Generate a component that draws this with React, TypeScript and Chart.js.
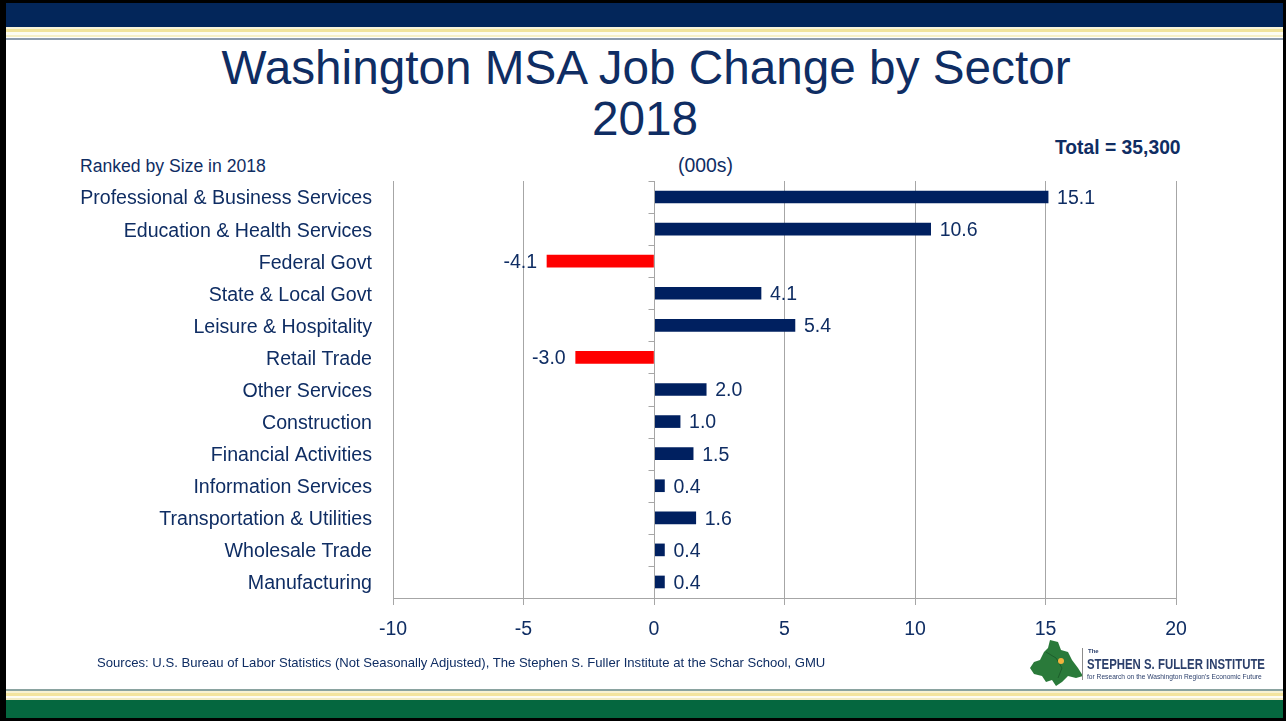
import React, { useEffect, useRef } from "react";
import { Chart, registerables } from "chart.js";

Chart.register(...registerables);

const categories = [
  "Professional & Business Services",
  "Education & Health Services",
  "Federal Govt",
  "State & Local Govt",
  "Leisure & Hospitality",
  "Retail Trade",
  "Other Services",
  "Construction",
  "Financial Activities",
  "Information Services",
  "Transportation & Utilities",
  "Wholesale Trade",
  "Manufacturing",
];
const jobChange = [15.1, 10.6, -4.1, 4.1, 5.4, -3.0, 2.0, 1.0, 1.5, 0.4, 1.6, 0.4, 0.4];
const xMin = -10;
const xMax = 20;
const xStep = 5;

const NAVY = "#002060";
const TEXT = "#0f2d63";
const RED = "#ff0000";
const GRID = "#a6a6a6";
const FONT = "'Liberation Sans', Arial, sans-serif";

const valueLabels = {
  id: "valueLabels",
  afterDatasetsDraw(chart: any) {
    const ctx = chart.ctx;
    const meta = chart.getDatasetMeta(0);
    ctx.save();
    ctx.font = `19.5px ${FONT}`;
    ctx.fillStyle = TEXT;
    ctx.textBaseline = "middle";
    meta.data.forEach((bar: any, i: number) => {
      const v = jobChange[i];
      const txt = v.toFixed(1);
      if (v >= 0) {
        ctx.textAlign = "left";
        ctx.fillText(txt, bar.x + 9, bar.y + 1.5);
      } else {
        ctx.textAlign = "right";
        ctx.fillText(txt, bar.x - 10, bar.y + 1.5);
      }
    });
    ctx.restore();
  },
};

const zeroAxis = {
  id: "zeroAxis",
  afterDraw(chart: any) {
    const ctx = chart.ctx;
    const area = chart.chartArea;
    const x0 = Math.round(chart.scales.x.getPixelForValue(0)) + 0.5;
    const n = categories.length;
    const h = (area.bottom - area.top) / n;
    ctx.save();
    ctx.strokeStyle = GRID;
    ctx.lineWidth = 1;
    ctx.beginPath();
    ctx.moveTo(x0, area.top);
    ctx.lineTo(x0, area.bottom);
    for (let i = 0; i <= n; i++) {
      const y = Math.round(area.top + i * h) + 0.5;
      ctx.moveTo(x0 - 6, y);
      ctx.lineTo(x0, y);
    }
    ctx.stroke();
    ctx.restore();
  },
};

function ChartCanvas() {
  const ref = useRef<HTMLCanvasElement>(null);
  useEffect(() => {
    if (!ref.current) return;
    const chart = new Chart(ref.current, {
      type: "bar",
      data: {
        labels: categories,
        datasets: [
          {
            data: jobChange,
            backgroundColor: jobChange.map((v) => (v < 0 ? RED : NAVY)),
            barThickness: 12,
            borderWidth: 0,
          },
        ],
      },
      options: {
        indexAxis: "y",
        responsive: false,
        animation: false,
        devicePixelRatio: 1,
        layout: { padding: { top: 41, right: 110, left: 0, bottom: 0 } },
        plugins: {
          legend: { display: false },
          tooltip: { enabled: false },
          title: { display: false },
        },
        scales: {
          x: {
            min: xMin,
            max: xMax,
            afterFit: (s: any) => {
              s.height = 62;
            },
            ticks: {
              stepSize: xStep,
              padding: 13,
              color: TEXT,
              font: { family: FONT, size: 19.5 },
              callback: (v: any) => String(v),
            },
            grid: {
              color: GRID,
              lineWidth: 1,
              drawTicks: true,
              tickLength: 7,
              tickColor: GRID,
            },
            border: { display: true, color: GRID, width: 1 },
          },
          y: {
            afterFit: (s: any) => {
              s.width = 393;
            },
            ticks: {
              padding: 21,
              labelOffset: 2,
              color: TEXT,
              font: { family: FONT, size: 19.6 },
              autoSkip: false,
            },
            grid: { display: false, drawTicks: false },
            border: { display: false },
          },
        },
      },
      plugins: [valueLabels, zeroAxis],
    } as any);
    return () => chart.destroy();
  }, []);
  return (
    <canvas
      ref={ref}
      width={1286}
      height={520}
      style={{ position: "absolute", left: 0, top: 140, width: 1286, height: 520 }}
    />
  );
}

function Stripe({ top, height, color }: { top: number; height: number; color: string }) {
  return (
    <div
      style={{ position: "absolute", left: 0, width: 1286, top, height, background: color }}
    />
  );
}

const txt = (extra: React.CSSProperties): React.CSSProperties => ({
  position: "absolute",
  fontFamily: FONT,
  color: TEXT,
  whiteSpace: "nowrap",
  lineHeight: 1,
  ...extra,
});

export default function App() {
  return (
    <div
      style={{
        position: "absolute",
        left: 0,
        top: 0,
        width: 1286,
        height: 721,
        overflow: "hidden",
        background: "#ffffff",
      }}
    >
      {/* top band */}
      <Stripe top={0} height={3} color="#000000" />
      <Stripe top={3} height={24} color="#03265a" />
      <Stripe top={27} height={2} color="#f8f4da" />
      <Stripe top={29} height={3} color="#f1e39c" />
      <Stripe top={32} height={3} color="#fdfcf2" />
      <Stripe top={35} height={2} color="#f6efc6" />
      <Stripe top={38} height={2} color="#8e9cae" />
      {/* bottom band */}
      <Stripe top={689} height={2} color="#8aa3a0" />
      <Stripe top={691} height={2} color="#f8f2d2" />
      <Stripe top={693} height={3} color="#f3e49e" />
      <Stripe top={696} height={2} color="#fdfcf2" />
      <Stripe top={698} height={2} color="#f3ecc4" />
      <Stripe top={700} height={18} color="#05673f" />
      <Stripe top={718} height={3} color="#000000" />
      {/* side borders */}
      <div style={{ position: "absolute", left: 0, top: 0, width: 6, height: 721, background: "#000" }} />
      <div style={{ position: "absolute", right: 0, top: 0, width: 3, height: 721, background: "#000" }} />

      {/* title */}
      <div style={txt({ left: 0, width: 1292, top: 44, textAlign: "center", fontSize: 47.7 })}>
        Washington MSA Job Change by Sector
      </div>
      <div style={txt({ left: 0, width: 1290, top: 95, textAlign: "center", fontSize: 47.7 })}>
        2018
      </div>

      <div style={txt({ left: 80, top: 158, fontSize: 17.6 })}>Ranked by Size in 2018</div>
      <div style={txt({ left: 678, top: 156, fontSize: 19.4 })}>(000s)</div>
      <div style={txt({ left: 1055, top: 138, fontSize: 19.3, fontWeight: "bold" })}>
        Total = 35,300
      </div>

      <ChartCanvas />

      <div style={txt({ left: 97, top: 656, fontSize: 13.1 })}>
        Sources: U.S. Bureau of Labor Statistics (Not Seasonally Adjusted), The Stephen S. Fuller Institute at the Schar School, GMU
      </div>

      {/* logo */}
      <svg
        width={60}
        height={50}
        viewBox="0 0 60 50"
        style={{ position: "absolute", left: 1028, top: 638 }}
      >
        <path
          d="M22 2 L30 4 L33 12 L40 14 L44 22 L50 30 L55 38 L48 40 L40 38 L34 44 L28 48 L24 42 L18 44 L14 38 L6 36 L2 30 L6 24 L12 22 L16 14 L20 10 Z"
          fill="#2a7a3a"
        />
        <path d="M18 14 L28 20 L34 30 L30 40" stroke="#1d5e2b" strokeWidth={1} fill="none" />
        <circle cx={33} cy={23} r={3} fill="#f2b33d" />
      </svg>
      <div style={{ position: "absolute", left: 1082, top: 648, width: 1, height: 32, background: "#8c8c8c" }} />
      <div style={txt({ left: 1088, top: 648, fontSize: 6, fontWeight: "bold", color: "#2b3f6b" })}>The</div>
      <div
        style={txt({
          left: 1087,
          top: 656,
          fontSize: 15,
          fontWeight: "bold",
          color: "#2b3f6b",
          transform: "scaleX(0.76)",
          transformOrigin: "left top",
        })}
      >
        STEPHEN S. FULLER INSTITUTE
      </div>
      <div
        style={txt({
          left: 1087,
          top: 673,
          fontSize: 7,
          color: "#2b3f6b",
          transform: "scaleX(0.95)",
          transformOrigin: "left top",
        })}
      >
        for Research on the Washington Region's Economic Future
      </div>
    </div>
  );
}
